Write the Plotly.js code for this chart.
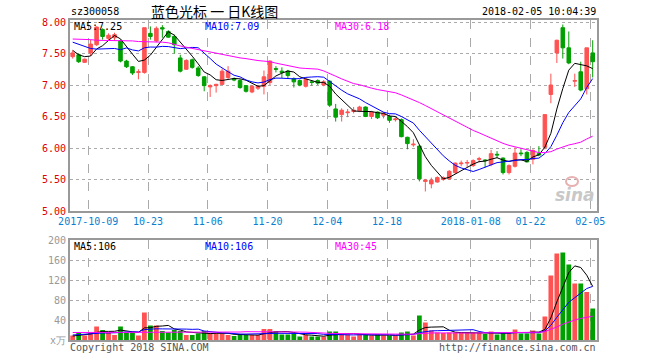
<!DOCTYPE html>
<html><head><meta charset="utf-8">
<script src="https://cdn.plot.ly/plotly-3.0.1.min.js"></script>
<style>html,body{margin:0;padding:0;background:#fff}#c{width:660px;height:360px}</style>
</head><body><div id="c"></div>
<script>
// ---- data ----
const tickIdx = [3, 13, 23, 33, 43, 53, 67, 77, 87];
const tickLabels = ['2017-10-09','10-23','11-06','11-20','12-04','12-18','2018-01-08','01-22','02-05'];

const open = [7.45,7.48,7.36,7.51,7.64,7.88,7.74,7.75,7.70,7.38,7.29,7.20,7.20,7.82,7.70,7.91,7.85,7.77,7.43,7.25,
7.40,7.27,7.13,6.97,6.99,7.01,7.12,7.10,7.07,6.99,6.89,6.95,6.98,7.04,7.26,7.22,7.22,7.10,7.07,6.98,
7.05,7.07,7.00,7.06,6.62,6.53,6.56,6.58,6.59,6.65,6.50,6.57,6.52,6.50,6.45,6.45,6.17,6.05,6.03,5.47,
5.43,5.46,5.50,5.51,5.61,5.75,5.76,5.72,5.82,5.81,5.74,5.90,5.84,5.61,5.71,5.92,5.93,5.82,5.91,6.01,
6.85,7.51,7.91,7.59,7.06,7.21,6.94,7.51];
const high = [7.55,7.50,7.42,7.72,7.93,7.90,7.82,7.83,7.72,7.40,7.30,7.25,7.91,7.93,7.93,7.95,7.87,7.80,7.48,7.41,
7.42,7.30,7.14,7.01,7.02,7.26,7.30,7.12,7.09,7.00,7.00,7.00,7.23,7.39,7.30,7.28,7.24,7.12,7.09,7.11,
7.08,7.09,7.08,7.08,6.70,6.63,6.62,6.65,6.67,6.66,6.59,6.58,6.57,6.53,6.49,6.47,6.18,6.14,6.04,5.51,
5.53,5.55,5.55,5.65,5.77,5.80,5.81,5.82,5.86,5.82,5.97,5.95,5.85,5.74,6.01,5.98,5.95,5.98,6.03,6.53,
7.18,7.72,7.96,7.85,7.18,7.37,7.59,7.71];
const low = [7.42,7.35,7.35,7.46,7.62,7.72,7.71,7.70,7.36,7.27,7.16,7.09,7.18,7.72,7.68,7.75,7.75,7.50,7.20,7.24,
7.26,7.13,6.90,6.81,6.88,7.00,7.09,7.06,6.94,6.88,6.87,6.92,6.85,7.00,7.20,7.11,7.10,6.96,6.98,6.96,
6.99,7.00,6.98,6.65,6.42,6.42,6.49,6.55,6.57,6.49,6.46,6.46,6.47,6.40,6.42,6.17,5.98,6.02,5.47,5.31,
5.36,5.45,5.48,5.50,5.59,5.71,5.70,5.70,5.77,5.69,5.71,5.84,5.58,5.58,5.69,5.87,5.77,5.74,5.87,5.98,
6.71,7.35,7.42,7.33,6.97,6.90,6.85,7.12];
const close = [7.51,7.37,7.41,7.65,7.92,7.77,7.79,7.80,7.38,7.29,7.19,7.21,7.91,7.77,7.90,7.89,7.76,7.64,7.22,7.39,
7.28,7.15,6.99,6.99,7.01,7.22,7.22,7.08,6.96,6.90,6.98,6.98,7.13,7.38,7.25,7.20,7.15,7.05,7.00,7.09,
7.04,7.03,7.05,6.68,6.49,6.60,6.57,6.60,6.65,6.50,6.57,6.48,6.55,6.44,6.46,6.18,6.07,6.06,5.51,5.49,
5.49,5.53,5.53,5.63,5.76,5.76,5.77,5.80,5.83,5.80,5.91,5.89,5.61,5.72,5.92,5.91,5.78,5.96,5.89,6.53,
7.00,7.71,7.59,7.35,7.07,6.92,7.59,7.37];
const volume = [9,15,9,15,27,20,15,10,27,15,15,9,55,29,29,18,15,20,18,10,
10,13,18,13,13,13,10,8,11,10,10,10,22,22,18,11,11,13,7,10,
7,7,7,17,17,11,11,7,11,11,9,11,9,9,9,15,17,9,49,35,
19,15,14,15,15,15,15,14,14,12,17,11,14,13,21,13,13,19,13,47,
129,173,175,151,113,113,96,63];

// moving-average values at the left edge (window reaches before the chart)
const ma5Start  = [7.55,7.48,7.45,7.46];
const ma10Start = [7.68,7.65,7.61,7.58,7.57,7.57,7.58,7.58,7.56];
const ma30Start = [7.73,7.73,7.72,7.72,7.71,7.71,7.71,7.70,7.70,7.70,7.70,7.69,7.69,7.69,7.68,7.68,7.67,7.64,7.62,7.60,7.58,7.56,7.54,7.52,7.50,7.48,7.47,7.45,7.43];
const vma5Start  = [8,9,10,12];
const vma10Start = [10,11,11,12,13,14,14,14,15];
const vma30Start = [15,15,15,15,15,15,15,15,15,16,16,16,16,16,16,16,16,16,16,16,16,16,16,16,16,16,16,16,16];

const labelsTop = ['MA5:7.25','MA10:7.09','MA30:6.18'];
const labelsVol = ['MA5:106','MA10:106','MA30:45'];

// ---- helpers ----
function sma(arr, n, start){
  return arr.map((v,i)=>{
    if(i < n-1) return start[i];
    let s=0; for(let k=i-n+1;k<=i;k++) s+=arr[k]; return s/n;
  });
}
const idx = close.map((_,i)=>i);
const RED='#ff5252', GREEN='#00a000';
const mono='"DejaVu Sans Mono", monospace';
const volColors = close.map((c,i)=> c>=open[i] ? RED : GREEN);
const gridVals = tickIdx.map(v=>v-0.4);

const traces = [
 {type:'candlestick', x:idx, open:open, high:high, low:low, close:close, xaxis:'x', yaxis:'y',
  increasing:{line:{color:RED,width:1}, fillcolor:RED},
  decreasing:{line:{color:GREEN,width:1}, fillcolor:GREEN},
  whiskerwidth:0, hoverinfo:'skip'},
 {type:'scatter', mode:'lines', x:idx, y:sma(close,5,ma5Start), line:{color:'#000',width:1}, xaxis:'x', yaxis:'y', hoverinfo:'skip'},
 {type:'scatter', mode:'lines', x:idx, y:sma(close,10,ma10Start), line:{color:'#0000ff',width:1}, xaxis:'x', yaxis:'y', hoverinfo:'skip'},
 {type:'scatter', mode:'lines', x:idx, y:sma(close,30,ma30Start), line:{color:'#ff00ff',width:1}, xaxis:'x', yaxis:'y', hoverinfo:'skip'},
 {type:'bar', x:idx, y:volume, marker:{color:volColors,line:{width:0}}, width:0.8, xaxis:'x2', yaxis:'y2', hoverinfo:'skip'},
 {type:'scatter', mode:'lines', x:idx, y:sma(volume,5,vma5Start), line:{color:'#000',width:1}, xaxis:'x2', yaxis:'y2', hoverinfo:'skip'},
 {type:'scatter', mode:'lines', x:idx, y:sma(volume,10,vma10Start), line:{color:'#0000ff',width:1}, xaxis:'x2', yaxis:'y2', hoverinfo:'skip'},
 {type:'scatter', mode:'lines', x:idx, y:sma(volume,30,vma30Start), line:{color:'#ff00ff',width:1}, xaxis:'x2', yaxis:'y2', hoverinfo:'skip'}
];

const L=70, R=597, T=20, B=340;
const px = v => (v-L)/(R-L);
const py = v => (B-v)/(B-T);
function ann(text, x, y, color, size, xanchor, extra){
  return Object.assign({text:text, xref:'paper', yref:'paper', x:px(x), y:py(y), xanchor:xanchor||'left', yanchor:'middle',
    showarrow:false, font:{family:mono, size:size||10, color:color}, borderpad:0}, extra||{});
}

const axisCommon = {showline:true, mirror:true, linecolor:'#999', linewidth:2, zeroline:false, ticks:'', fixedrange:true};
const layout = {
  width:660, height:360, margin:{l:L, r:660-R, t:T, b:360-B}, paper_bgcolor:'#fff', plot_bgcolor:'#fff',
  showlegend:false, boxgap:0.15,
  xaxis: Object.assign({}, axisCommon, {domain:[0,1], anchor:'y', range:[-0.45, 87.72], tickmode:'array', tickvals:gridVals, ticktext:tickLabels,
     tickfont:{family:mono, size:10, color:'#0a7fd0'}, showgrid:true, gridcolor:'#aaa', griddash:'dash', gridwidth:1, rangeslider:{visible:false}}),
  yaxis: Object.assign({}, axisCommon, {domain:[py(211), 1], anchor:'x', range:[5, 8.032], tickmode:'array',
     tickvals:[5,5.5,6,6.5,7,7.5,8], ticktext:['5.00','5.50','6.00','6.50','7.00','7.50','8.00'],
     tickfont:{family:mono, size:10, color:'#e00000'}, showgrid:true, gridcolor:'#aaa', griddash:'dot', gridwidth:1}),
  xaxis2: Object.assign({}, axisCommon, {domain:[0,1], anchor:'y2', range:[-0.45, 87.72], tickmode:'array', tickvals:gridVals,
     showticklabels:false, showgrid:true, gridcolor:'#aaa', griddash:'dash', gridwidth:1, rangeslider:{visible:false}}),
  yaxis2: Object.assign({}, axisCommon, {domain:[0, py(240)], anchor:'x2', range:[0, 200], tickmode:'array',
     tickvals:[0,40,80,120,160,200], ticktext:['x万','40','80','120','160','200'],
     tickfont:{family:mono, size:10, color:'#999'}, showgrid:true, gridcolor:'#aaa', griddash:'dot', gridwidth:1}),
  annotations:[
    ann('sz300058', 70, 11, '#000', 10),
    {text:'蓝色光标 一 日K线图', xref:'paper', yref:'paper', x:px(214), y:py(11), xanchor:'center', yanchor:'middle', showarrow:false,
      font:{family:'"Noto Sans CJK SC", sans-serif', size:14, color:'#000'}},
    ann('2018-02-05 10:04:39', 597, 11, '#000', 10, 'right'),
    ann(labelsTop[0], 73, 26, '#000', 10),
    ann(labelsTop[1], 204, 26, '#0000ff', 10),
    ann(labelsTop[2], 334, 26, '#ff00ff', 10),
    ann(labelsVol[0], 73, 246, '#000', 10),
    ann(labelsVol[1], 204, 246, '#0000ff', 10),
    ann(labelsVol[2], 334, 246, '#ff00ff', 10),
    ann('Copyright 2018 SINA.COM', 69, 347, '#555', 10),
    ann('http://finance.sina.com.cn', 597, 347, '#555', 10, 'right'),
    {text:'sina', xref:'paper', yref:'paper', x:px(597), y:py(195), xanchor:'right', yanchor:'middle', showarrow:false,
      font:{family:'"DejaVu Sans", sans-serif', size:17, color:'#c8c8c8', weight:'bold', style:'italic'}}
  ],
  shapes:[
    {type:'circle', xref:'paper', yref:'paper', x0:px(566), x1:px(578), y0:py(186), y1:py(177), line:{color:'#e8b0b0', width:2}, fillcolor:'rgba(0,0,0,0)'}
  ]
};
Plotly.newPlot('c', traces, layout, {staticPlot:true, displayModeBar:false});
</script></body></html>
